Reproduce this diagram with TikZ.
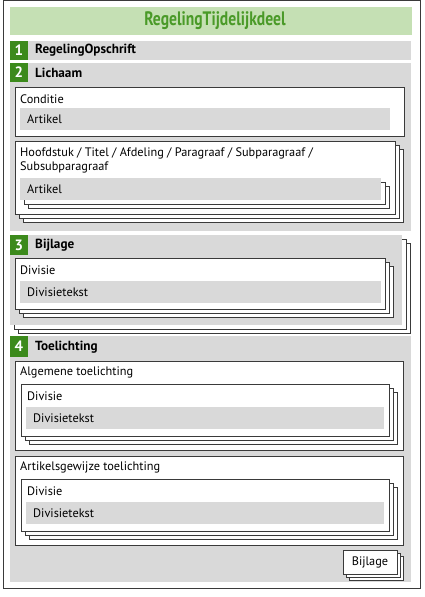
\documentclass[tikz,border=0pt]{standalone}
\usepackage{fontspec}
\setmainfont{PT Sans}
\usepackage{graphicx}
\definecolor{hdrgreen}{HTML}{C5E0B4}
\definecolor{txtgreen}{HTML}{4A9A28}
\definecolor{numgreen}{HTML}{3C8A1C}
\definecolor{panel}{HTML}{D9D9D9}
\definecolor{edge}{HTML}{3A3A3A}
\tikzset{
  frameline/.style={draw=edge, line width=1pt},
  whitebox/.style={frameline, fill=white},
  lbl/.style={anchor=west, inner sep=0pt, font=\fontsize{12.3}{14}\selectfont},
  blbl/.style={anchor=west, inner sep=0pt, font=\fontsize{13.2}{14}\selectfont\bfseries},
  num/.style={fill=numgreen, text=white, inner sep=0pt, minimum width=18pt, font=\fontsize{15}{15}\selectfont\bfseries}
}
% stack: back copies offset by 4 and 8
\newcommand{\stackback}[4]{%
  \draw[whitebox] (#1+8,#2+8) rectangle (#3+8,#4+8);
  \draw[whitebox] (#1+4,#2+4) rectangle (#3+4,#4+4);}
\begin{document}
\begin{tikzpicture}[x=1pt,y=-1pt]
\useasboundingbox (0,0) rectangle (425,597);
% outer frame
\draw[whitebox] (3,0.5) rectangle (420,588);
% header
\fill[hdrgreen] (10,7) rectangle (412,35);
\node[text=txtgreen, inner sep=0pt] (title) at (215,21) {\scalebox{0.8}[1]{\fontsize{19.5}{19.5}\selectfont\bfseries RegelingTijdelijkdeel}};
% section 1
\fill[panel] (10,41) rectangle (411,60);
\node[num, minimum height=19pt] (n1) at (19,50.5) {1};
\node[blbl] (s1) at (35,50.5) {RegelingOpschrift};
% section 2
\fill[panel] (10,63) rectangle (411,231);
\node[num, minimum height=19pt] (n2) at (19,72.5) {2};
\node[blbl] (s2) at (35,72.5) {Lichaam};
\draw[whitebox] (15,87) rectangle (404,136);
\node[lbl] (cond) at (20,99) {Conditie};
\fill[panel] (20,108) rectangle (390,130);
\node[lbl] (art1) at (27,119) {Artikel};
\stackback{15}{141}{395}{214}
\draw[whitebox] (15,141) rectangle (395,214);
\node[lbl] (hfd1) at (20,153) {Hoofdstuk / Titel / Afdeling / Paragraaf / Subparagraaf /};
\node[lbl] (hfd2) at (20,167) {Subsubparagraaf};
\stackback{20}{178}{381}{200}
\fill[panel] (20,178) rectangle (381,200);
\node[lbl] (art2) at (27,189) {Artikel};
% section 3
\stackback{10}{235}{402}{325}
\fill[panel] (10,235) rectangle (402,325);
\node[num, minimum height=20pt] (n3) at (19,245) {3};
\node[blbl] (s3) at (35,245) {Bijlage};
\stackback{15}{258}{385}{309}
\draw[whitebox] (15,258) rectangle (385,309);
\node[lbl] (div3) at (20,270) {Divisie};
\fill[panel] (20,281) rectangle (381,303);
\node[lbl] (dt3) at (27,292) {Divisietekst};
% section 4
\fill[panel] (10,336) rectangle (411,582);
\node[num, minimum height=21pt] (n4) at (19,346.5) {4};
\node[blbl] (s4) at (35,347) {Toelichting};
\draw[whitebox] (15,361) rectangle (403,450);
\node[lbl] (alg) at (20,372) {Algemene toelichting};
\stackback{21}{384}{389}{436}
\draw[whitebox] (21,384) rectangle (389,436);
\node[lbl] (div4a) at (27,396) {Divisie};
\fill[panel] (26,407) rectangle (384,429);
\node[lbl] (dt4a) at (33,418) {Divisietekst};
\draw[whitebox] (15,456) rectangle (403,545);
\node[lbl] (agw) at (20,467) {Artikelsgewijze toelichting};
\stackback{21}{479}{389}{531}
\draw[whitebox] (21,479) rectangle (389,531);
\node[lbl] (div4b) at (27,491) {Divisie};
\fill[panel] (26,502) rectangle (384,524);
\node[lbl] (dt4b) at (33,513) {Divisietekst};
% small Bijlage stack
\draw[whitebox] (349,556) rectangle (403,580);
\draw[whitebox] (346,553) rectangle (400,577);
\draw[whitebox] (343,550) rectangle (397,574);
\node[inner sep=0pt, font=\fontsize{12.3}{14}\selectfont] (bij) at (370,562) {Bijlage};
\end{tikzpicture}
\end{document}
